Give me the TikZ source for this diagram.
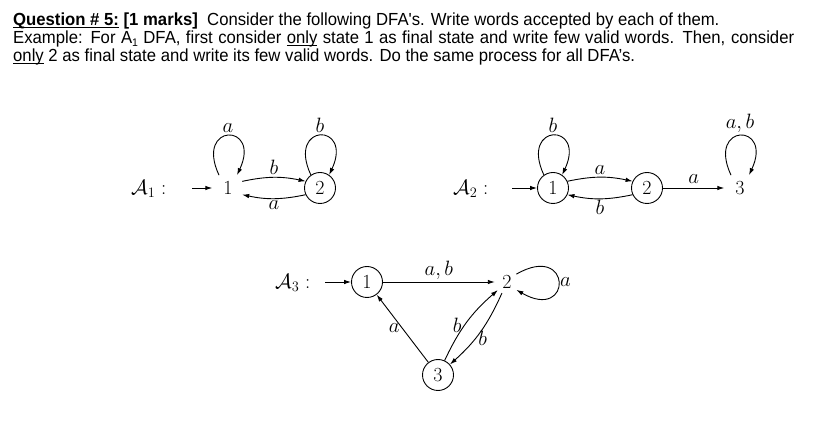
\documentclass[tikz,border=0pt]{standalone}
\usepackage{fontspec}
\usetikzlibrary{arrows.meta}
\newfontfamily\hd{Liberation Sans}
\newsavebox\hdbox
\newcommand\ulx[1]{\setbox0\hbox{#1}\rlap{\rule[-2.4pt]{\wd0}{1.3pt}}\box0\relax}
\newcommand\hdsize{\hd\fontsize{17.5}{20}\selectfont}
\newcommand\hlineA{\ulx{\bfseries Question \# 5:}\ {\bfseries [1 marks]}\ \ Consider the following DFA's. Write words accepted by each of them.}
\newcommand\hlineB{Example: For A\raisebox{-2.5pt}{\fontsize{11}{11}\selectfont 1} DFA, first consider \ulx{only} state 1 as final state and write few valid words. Then, consider}
\newcommand\hlineC{\ulx{only} 2 as final state and write its few valid words. Do the same process for all DFA’s.}
\begin{document}
\global\setbox\hdbox=\hbox{\hdsize\hlineC}%
\pgfmathsetmacro\hsx{622/\the\wd\hdbox}%
\pgfmathsetmacro\wtwo{781/\hsx}%
\xdef\hsx{\hsx}\xdef\wtwo{\wtwo}%
\begin{tikzpicture}[x=1pt,y=1pt,
  dg/.style={font=\fontsize{20}{24}\selectfont},
  st/.style={dg,circle,draw,minimum size=31pt,inner sep=0pt,line width=0.9pt},
  stn/.style={dg,circle,minimum size=31pt,inner sep=0pt},
  arr/.style={-{Latex[length=7pt,width=4.5pt]},line width=0.9pt},
  lbl/.style={dg,inner sep=2.5pt},
  hdl/.style={anchor=base west,inner sep=0pt}]
\fill[white] (0,0) rectangle (814,431);
\useasboundingbox (0,0) rectangle (814,431);
% header
\node[hdl] (h1) at (13,405.3) {\scalebox{\hsx}[1]{\hdsize\hlineA}};
\node[hdl] (h2) at (13,387) {\scalebox{\hsx}[1]{\hbox to \wtwo pt{\hdsize\hlineB}}};
\node[hdl] (h3) at (13,369) {\scalebox{\hsx}[1]{\hdsize\hlineC}};
% A1
\node[dg,anchor=base west,inner sep=0pt] (A1) at (131,236.6) {$\mathcal{A}_1 :$};
\coordinate (i1) at (192,243);
\node[stn] (s11) at (228,243) {1};
\node[st] (s12) at (320,243) {2};
\draw[arr] (i1) -- (s11);
\draw[arr] (s11.125) .. controls +(115:58) and +(65:58) .. node[lbl,above]{$a$} (s11.55);
\draw[arr] (s12.125) .. controls +(115:58) and +(65:58) .. node[lbl,above]{$b$} (s12.55);
\draw[arr] (s11.25) to[bend left=12] node[lbl,above]{$b$} (s12.155);
\draw[arr] (s12.205) to[bend left=12] node[lbl,below,inner sep=2pt]{$a$} (s11.-25);
% A2
\node[dg,anchor=base west,inner sep=0pt] (A2) at (453,236.6) {$\mathcal{A}_2 :$};
\coordinate (i2) at (512,243);
\node[st] (s21) at (553,243) {1};
\node[st] (s22) at (647,243) {2};
\node[stn] (s23) at (740,243) {3};
\draw[arr] (i2) -- (s21);
\draw[arr] (s21.125) .. controls +(115:58) and +(65:58) .. node[lbl,above]{$b$} (s21.55);
\draw[arr] (s23.125) .. controls +(115:58) and +(65:58) .. node[lbl,above]{$a,b$} (s23.55);
\draw[arr] (s21.25) to[bend left=12] node[lbl,above]{$a$} (s22.155);
\draw[arr] (s22.205) to[bend left=12] node[lbl,below,inner sep=1pt]{$b$} (s21.-25);
\draw[arr] (s22) -- node[lbl,above,inner sep=4pt]{$a$} (s23);
% A3
\node[dg,anchor=base west,inner sep=0pt] (A3) at (275,142.6) {$\mathcal{A}_3 :$};
\coordinate (i3) at (325,149);
\node[st] (s31) at (367,149) {1};
\node[dg,circle,minimum size=24pt,inner sep=0pt] (s32) at (507,149) {2};
\node[st] (s33) at (438,56) {3};
\draw[arr] (i3) -- (s31);
\draw[arr] (s31) -- node[lbl,above]{$a,b$} (s32);
\draw[arr] (s32.40) .. controls +(30:65) and +(-30:65) .. node[lbl,right,inner sep=1pt]{$a$} (s32.-40);
\draw[arr] (s33) -- node[lbl,left]{$a$} (s31);
\draw[arr] (s33) to[bend left=12] node[lbl,left,pos=0.45]{$b$} (s32);
\draw[arr] (s32) to[bend left=12] node[lbl,right,pos=0.6]{$b$} (s33);
\end{tikzpicture}
\end{document}
